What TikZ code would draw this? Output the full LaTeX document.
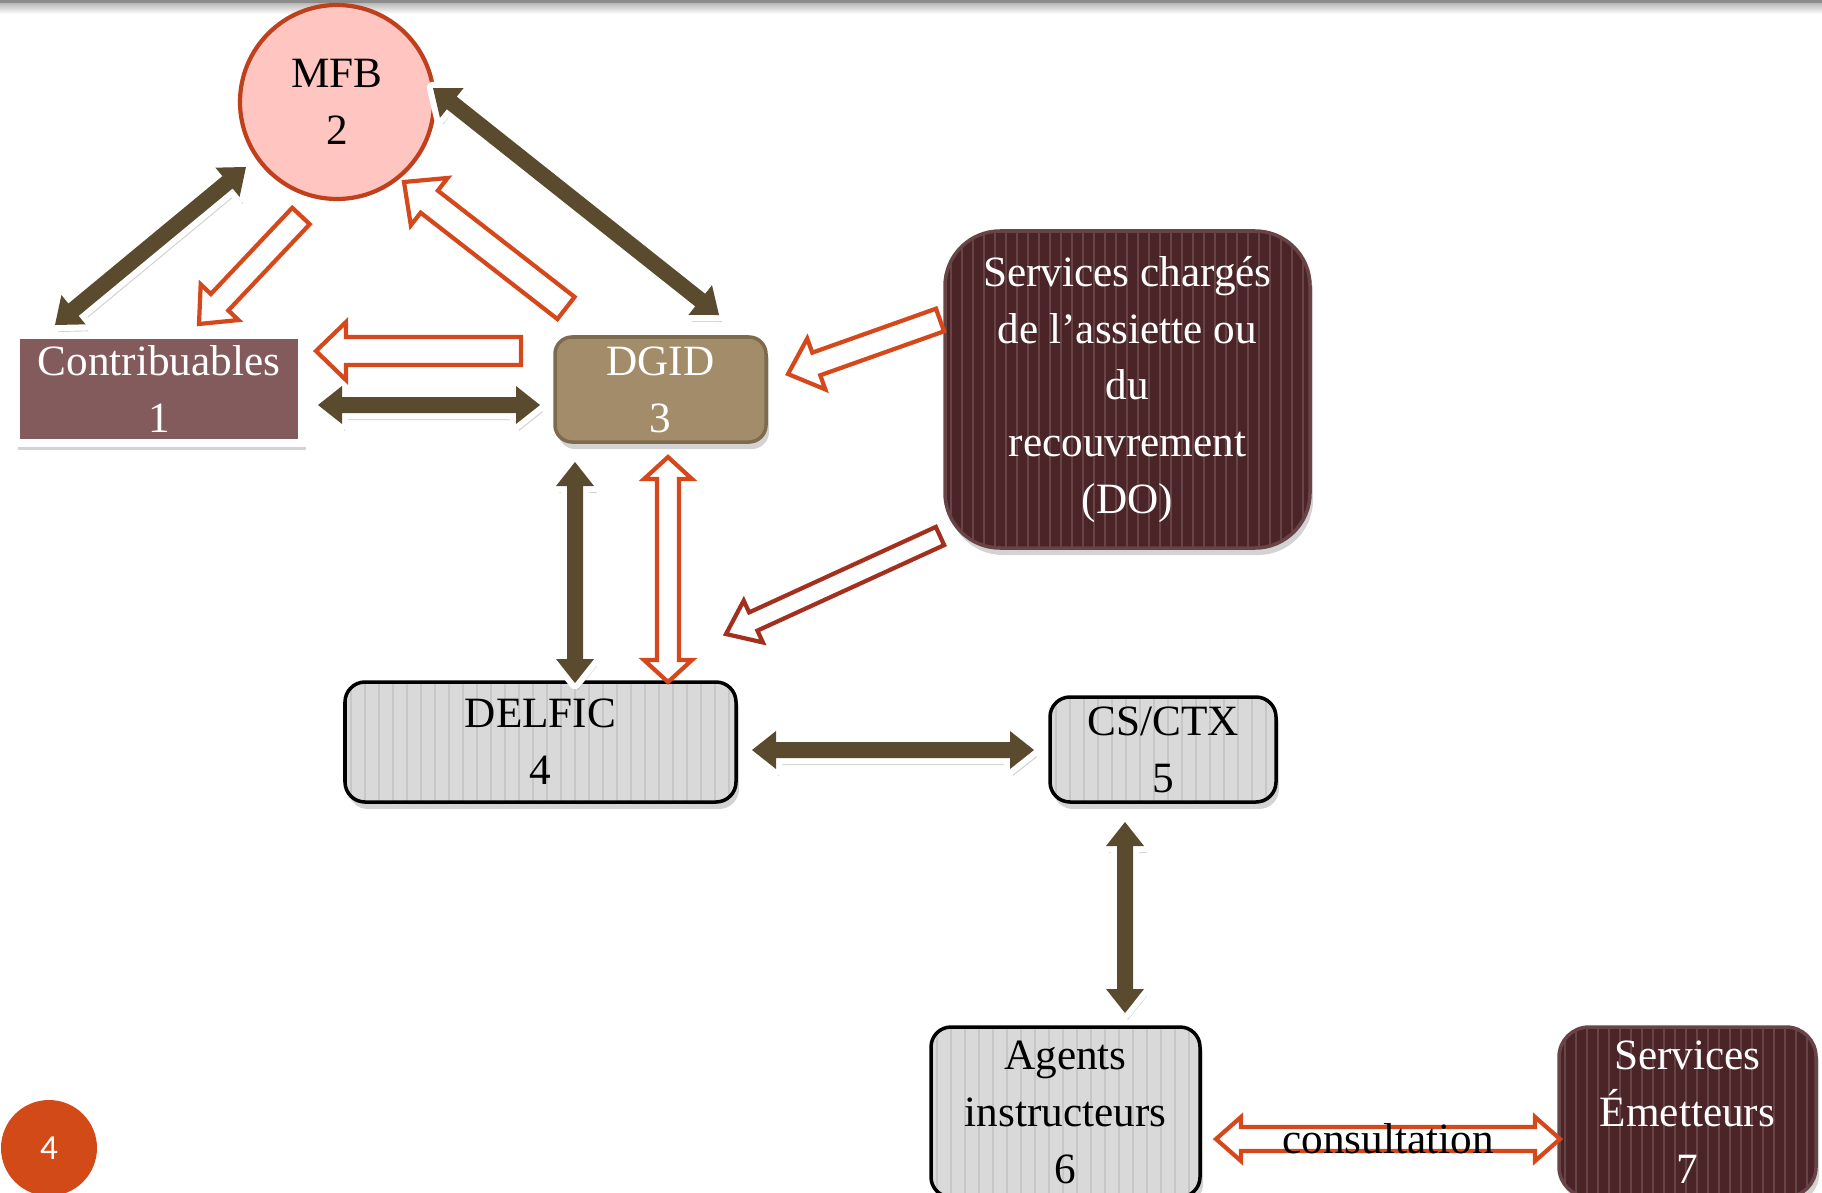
\documentclass[tikz,border=0pt]{standalone}
\usepackage{fontspec}
\setmainfont{Liberation Serif}
\newfontfamily\slidefont{Carlito}
\usepackage{tikz}
\usetikzlibrary{calc,shadows}
\definecolor{mfbpink}{HTML}{FFC6C1}
\definecolor{mfbline}{HTML}{C0401C}
\definecolor{contribred}{HTML}{845B5C}
\definecolor{dgidtan}{HTML}{A38C69}
\definecolor{dgidline}{HTML}{7E6A4C}
\definecolor{darkwine}{HTML}{4A2427}
\definecolor{stripewine}{HTML}{684446}
\definecolor{boxgray}{HTML}{D9D9D9}
\definecolor{stripegray}{HTML}{C7C7C7}
\definecolor{arrowbrown}{HTML}{5A4A2E}
\definecolor{orangered}{HTML}{D5481B}
\definecolor{brickred}{HTML}{A3301F}
\definecolor{pagecirc}{HTML}{D34A19}
\tikzstyle{txt}=[align=center, font=\fontsize{12.3pt}{16.2pt}\selectfont, inner sep=0pt]
\tikzstyle{dropped}=[drop shadow={opacity=0.35, shadow xshift=0.03cm, shadow yshift=-0.07cm}]
\tikzstyle{graystripes}=[path picture={\foreach \i in {0.06,0.20,...,4}
  \draw[stripegray, line width=0.8pt] ([xshift=\i cm]path picture bounding box.south west) -- ([xshift=\i cm]path picture bounding box.north west);}]
\tikzstyle{winestripes}=[path picture={\foreach \i in {0.06,0.17,...,4}
  \draw[stripewine, line width=0.6pt] ([xshift=\i cm]path picture bounding box.south west) -- ([xshift=\i cm]path picture bounding box.north west);}]
\tikzstyle{mfb}=[txt, circle, draw=mfbline, line width=1.2pt, fill=mfbpink, minimum size=1.94cm]
\tikzstyle{redbox}=[txt, draw=white, line width=2.3pt, fill=contribred, text=white, minimum width=2.87cm, minimum height=1.08cm, dropped]
\tikzstyle{tanbox}=[txt, rounded corners=0.17cm, draw=dgidline, line width=1pt, fill=dgidtan, text=white, dropped]
\tikzstyle{winebox}=[txt, rounded corners=0.55cm, draw=stripewine, line width=1pt, fill=darkwine, winestripes, text=white, dropped]
\tikzstyle{graybox}=[txt, rounded corners=0.2cm, draw=black, line width=1pt, fill=boxgray, graystripes, dropped]
\tikzstyle{darkarrow}=[dropped, preaction={draw=white, line width=3.5pt, line join=round}, fill=arrowbrown]
\tikzstyle{hollow}=[fill=white, draw=orangered, line width=1.2pt]
% block arrows: style, from, to, half shaft, half head, head length
\newcommand{\onearrow}[6]{%
  \coordinate (neck) at ($(#3)!#6!(#2)$);
  \path[#1] ($(#2)!#4!90:(#3)$) -- ($(neck)!#4!90:(#3)$) -- ($(neck)!#5!90:(#3)$) -- (#3)
    -- ($(neck)!#5!-90:(#3)$) -- ($(neck)!#4!-90:(#3)$) -- ($(#2)!#4!-90:(#3)$) -- cycle;}
\newcommand{\twoarrow}[6]{%
  \coordinate (neckA) at ($(#2)!#6!(#3)$);
  \coordinate (neckB) at ($(#3)!#6!(#2)$);
  \path[#1] (#2) -- ($(neckA)!#5!90:(#3)$) -- ($(neckA)!#4!90:(#3)$) -- ($(neckB)!#4!90:(#3)$)
    -- ($(neckB)!#5!90:(#3)$) -- (#3) -- ($(neckB)!#5!-90:(#3)$) -- ($(neckB)!#4!-90:(#3)$)
    -- ($(neckA)!#4!-90:(#3)$) -- ($(neckA)!#5!-90:(#3)$) -- cycle;}

\begin{document}
\begin{tikzpicture}
        \useasboundingbox (0,0) rectangle (18.22,-11.92);
        % top rule
        \shade[top color=black!30, bottom color=white] (0,-0.02) rectangle (18.22,-0.14);
        \draw[black!45, line width=1.5pt] (0,0) -- (18.22,0);

        % boxes
        \node[mfb] (2) at (3.37,-1.02) {MFB\\2};
        \node[redbox] (1) at (1.59,-3.89) {Contribuables\\1};
        \node[tanbox, minimum width=2.11cm, minimum height=1.05cm] (3) at (6.605,-3.895) {DGID\\3};
        \node[winebox, minimum width=3.65cm, minimum height=3.17cm] (do) at (11.275,-3.895) {Services chargés\\de l’assiette ou\\du\\recouvrement\\(DO)};
        \node[graybox, minimum width=3.91cm, minimum height=1.2cm] (4) at (5.405,-7.42) {DELFIC\\4};
        \node[graybox, minimum width=2.26cm, minimum height=1.05cm] (5) at (11.63,-7.495) {CS/CTX\\5};
        \node[graybox, minimum width=2.69cm, minimum height=1.70cm] (6) at (10.655,-11.12) {Agents\\instructeurs\\6};
        \node[winebox, rounded corners=0.3cm, minimum width=2.57cm, minimum height=1.70cm] (7) at (16.875,-11.12) {Services\\Émetteurs\\7};

        % ends of the arrows
        \coordinate (p21) at ([shift={(-0.91,-0.65)}]2.center);
        \coordinate (p12) at ([shift={(-1.04,0.64)}]1.center);
        \coordinate (p23) at ([shift={(0.96,0.14)}]2.center);
        \coordinate (p32) at ([shift={(0.585,0.745)}]3.center);
        \coordinate (p13) at ([shift={(1.59,-0.16)}]1.center);
        \coordinate (p31) at ([shift={(-1.205,-0.155)}]3.center);
        \coordinate (p34) at ([shift={(-0.855,-0.725)}]3.center);
        \coordinate (p43) at ([shift={(0.345,0.59)}]4.center);
        \coordinate (p45) at ([shift={(2.115,-0.08)}]4.center);
        \coordinate (p54) at ([shift={(-1.29,-0.005)}]5.center);
        \coordinate (p56) at ([shift={(-0.38,-0.725)}]5.center);
        \coordinate (p65) at ([shift={(0.595,0.99)}]6.center);
        \coordinate (q21) at ([shift={(-0.36,-1.14)}]2.center);
        \coordinate (q12) at ([shift={(0.40,0.65)}]1.center);
        \coordinate (q32) at ([shift={(-0.945,0.815)}]3.center);
        \coordinate (q23) at ([shift={(0.67,-0.80)}]2.center);
        \coordinate (q31) at ([shift={(-1.395,0.385)}]3.center);
        \coordinate (q13) at ([shift={(1.57,0.38)}]1.center);
        \coordinate (q34) at ([shift={(0.075,-0.675)}]3.center);
        \coordinate (q43) at ([shift={(1.275,0.60)}]4.center);
        \coordinate (qd3) at ([shift={(-1.875,0.695)}]do.center);
        \coordinate (q3d) at ([shift={(1.275,0.155)}]3.center);
        \coordinate (qd4) at ([shift={(-1.875,-1.465)}]do.center);
        \coordinate (q4d) at ([shift={(1.855,1.08)}]4.center);
        \coordinate (q67) at ([shift={(1.505,-0.27)}]6.center);
        \coordinate (q76) at ([shift={(-1.275,-0.27)}]7.center);

        % dark double arrows
        \twoarrow{darkarrow}{p21}{p12}{0.08cm}{0.19cm}{0.24cm}
        \twoarrow{darkarrow}{p23}{p32}{0.08cm}{0.19cm}{0.24cm}
        \twoarrow{darkarrow}{p13}{p31}{0.08cm}{0.19cm}{0.24cm}
        \twoarrow{darkarrow}{p34}{p43}{0.08cm}{0.19cm}{0.24cm}
        \twoarrow{darkarrow}{p45}{p54}{0.08cm}{0.19cm}{0.24cm}
        \twoarrow{darkarrow}{p56}{p65}{0.08cm}{0.19cm}{0.24cm}

        % hollow arrows
        \onearrow{hollow}{q21}{q12}{0.12cm}{0.26cm}{0.30cm}
        \onearrow{hollow}{q32}{q23}{0.14cm}{0.30cm}{0.32cm}
        \onearrow{hollow}{q31}{q13}{0.14cm}{0.29cm}{0.30cm}
        \twoarrow{hollow}{q34}{q43}{0.11cm}{0.24cm}{0.22cm}
        \onearrow{hollow}{qd3}{q3d}{0.12cm}{0.27cm}{0.30cm}
        \onearrow{hollow, draw=brickred}{qd4}{q4d}{0.10cm}{0.23cm}{0.30cm}
        \twoarrow{hollow}{q67}{q76}{0.12cm}{0.22cm}{0.25cm}
        \node[txt] (cons) at ($(q67)!0.5!(q76)$) {consultation};

        % slide number
        \node[circle, fill=pagecirc, minimum size=0.96cm, inner sep=0pt, text=white, font=\slidefont\fontsize{10pt}{12pt}\selectfont] (page) at (0.49,-11.48) {4};
\end{tikzpicture}
\end{document}
